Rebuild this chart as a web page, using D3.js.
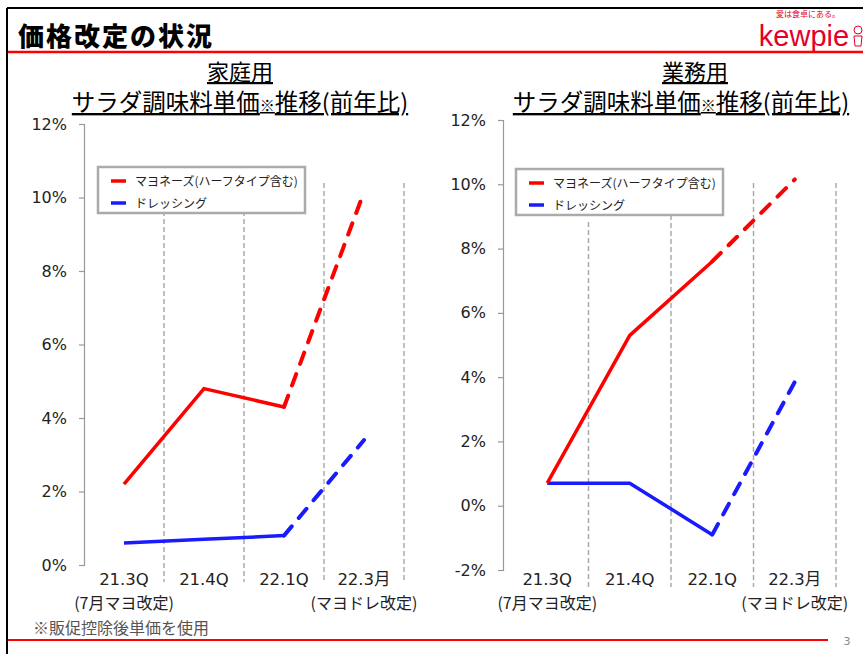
<!DOCTYPE html>
<html>
<head>
<meta charset="utf-8">
<script src="https://cdn.jsdelivr.net/npm/d3@7"></script>
<style>
body { margin:0; background:#fff; }
svg text { font-family: "DejaVu Sans", "Noto Sans CJK JP", sans-serif; }
.jp { font-family: "Noto Sans CJK JP", sans-serif; }
</style>
</head>
<body>
<svg id="chart" width="863" height="654"></svg>
<script>
// data
var categories = ["21.3Q", "21.4Q", "22.1Q", "22.3月"];
var subLabels = ["(7月マヨ改定)", "", "", "(マヨドレ改定)"];
var seriesNames = ["マヨネーズ(ハーフタイプ含む)", "ドレッシング"];
var homeMayo = [2.2, 4.8, 4.3, 10.15];
var homeDress = [0.6, 0.7, 0.8, 3.4];
var bizMayo = [0.7, 5.3, 7.6, 10.15];
var bizDress = [0.7, 0.7, -0.9, 3.85];
var homeTicks = [0, 2, 4, 6, 8, 10, 12];
var bizTicks = [-2, 0, 2, 4, 6, 8, 10, 12];

var red = "#ff0000", blue = "#1a1aff";
var svg = d3.select("#chart");

// frame
svg.append("line").attr("x1", 7).attr("y1", 8).attr("x2", 863).attr("y2", 8).style("stroke", "#000").style("stroke-width", 2);
svg.append("line").attr("x1", 7).attr("y1", 8).attr("x2", 7).attr("y2", 654).style("stroke", "#000").style("stroke-width", 2);
svg.append("line").attr("x1", 8).attr("y1", 52).attr("x2", 863).attr("y2", 52).style("stroke", red).style("stroke-width", 2.5);
svg.append("line").attr("x1", 8).attr("y1", 640).attr("x2", 828).attr("y2", 640).style("stroke", red).style("stroke-width", 2);

svg.append("text").attr("class", "jp").attr("x", 18).attr("y", 46)
	.style("font-size", "26px").style("font-weight", "900").style("letter-spacing", "2px")
	.text("価格改定の状況");

// logo
svg.append("text").attr("class", "jp").attr("x", 808).attr("y", 17).attr("text-anchor", "middle")
	.style("font-size", "8px").style("fill", "#e4002b").text("愛は食卓にある。");
svg.append("text").attr("x", 804).attr("y", 46).attr("text-anchor", "middle")
	.style("font-family", "Liberation Sans, sans-serif").style("font-size", "29px").style("fill", "#e4002b")
	.text("kewpie");
svg.append("circle").attr("cx", 858).attr("cy", 30).attr("r", 4).style("fill", "none").style("stroke", "#e4002b").style("stroke-width", 1);
svg.append("path").attr("d", "M854,36 L862,36 L861,46 L855,46 Z").style("fill", "none").style("stroke", "#e4002b").style("stroke-width", 1);

svg.append("text").attr("class", "jp").attr("x", 33).attr("y", 634)
	.style("font-size", "16px").style("fill", "#555").text("※販促控除後単価を使用");
svg.append("text").attr("x", 847).attr("y", 645).attr("text-anchor", "middle")
	.style("font-size", "11px").style("fill", "#888").text("3");

function draw_panel(opt) {
	var x = d3.scaleBand().domain(categories).range(opt.xrange).paddingInner(0).paddingOuter(0);
	var y = d3.scaleLinear().domain(opt.ydomain).range(opt.yrange);
	var g = svg.append("g");

	// titles
	g.append("text").attr("class", "jp").attr("x", opt.titleX).attr("y", 80).attr("text-anchor", "middle")
		.style("font-size", "22px").style("text-decoration", "underline").text(opt.title);
	var t2 = g.append("text").attr("class", "jp").attr("x", opt.titleX2).attr("y", 111).attr("text-anchor", "middle")
		.style("font-size", "23.5px").style("text-decoration", "underline");
	t2.append("tspan").text("サラダ調味料単価");
	t2.append("tspan").style("font-size", "15px").text("※");
	t2.append("tspan").text("推移(前年比)");

	// dashed category separators
	categories.forEach(function(c, i) {
		g.append("line")
			.attr("x1", x(c) + x.bandwidth()).attr("x2", x(c) + x.bandwidth())
			.attr("y1", opt.gridTop[i]).attr("y2", y(opt.ydomain[0]) + 17)
			.style("stroke", "#aaaaaa").style("stroke-width", 1.5).style("stroke-dasharray", "5,3");
	});

	// y axis
	var axis = d3.axisLeft(y).tickValues(opt.ticks).tickSize(5).tickPadding(12)
		.tickFormat(function(d) { return d + "%"; });
	var ax = g.append("g").attr("transform", "translate(" + opt.axisX + ",0)").call(axis);
	ax.select(".domain").style("stroke", "#999").style("stroke-width", 1.2);
	ax.selectAll(".tick line").style("stroke", "#999").style("stroke-width", 1.2);
	ax.selectAll(".tick text").style("font-size", "16px").style("fill", "#222")
		.style("font-family", "DejaVu Sans, sans-serif");

	// category labels
	categories.forEach(function(c, i) {
		g.append("text").attr("x", x(c) + x.bandwidth() / 2).attr("y", 585)
			.attr("text-anchor", "middle").style("font-size", "16.5px").style("fill", "#222").text(c);
		if (subLabels[i]) {
			g.append("text").attr("class", "jp").attr("x", x(c) + x.bandwidth() / 2).attr("y", 609)
				.attr("text-anchor", "middle").style("font-size", "16px").style("fill", "#222").text(subLabels[i]);
		}
	});

	var line = d3.line().x(function(d) { return x(d.c) + x.bandwidth() / 2; }).y(function(d) { return y(d.v); });
	[[opt.dress, blue], [opt.mayo, red]].forEach(function(s) {
		var pts = s[0].map(function(v, i) { return { c: categories[i], v: v }; });
		g.append("path").attr("d", line(pts.slice(0, 3)))
			.style("fill", "none").style("stroke", s[1]).style("stroke-width", 3.5).style("stroke-linejoin", "round");
		g.append("path").attr("d", line(pts.slice(2, 4)))
			.style("fill", "none").style("stroke", s[1]).style("stroke-width", 4)
			.style("stroke-dasharray", "12,11").style("stroke-linecap", "round");
	});

	// legend
	var lg = g.append("g").attr("transform", "translate(" + opt.legend[0] + "," + opt.legend[1] + ")");
	lg.append("rect").attr("x", 0).attr("y", 0).attr("width", 207).attr("height", 46)
		.style("fill", "#fff").style("stroke", "#aaaaaa").style("stroke-width", 2.5);
	[red, blue].forEach(function(col, i) {
		lg.append("line").attr("x1", 13).attr("x2", 28).attr("y1", 14 + i * 22).attr("y2", 14 + i * 22)
			.style("stroke", col).style("stroke-width", 3.5);
		lg.append("text").attr("class", "jp").attr("x", 37).attr("y", 18.5 + i * 22)
			.style("font-size", "12px").style("fill", "#222").text(seriesNames[i]);
	});
}

draw_panel({
	title: "家庭用", titleX: 240, titleX2: 240,
	xrange: [84, 404], axisX: 84,
	ydomain: [0, 12], yrange: [565, 124], ticks: homeTicks,
	mayo: homeMayo, dress: homeDress,
	gridTop: [195, 195, 183, 183],
	legend: [98, 167]
});
draw_panel({
	title: "業務用", titleX: 695, titleX2: 681,
	xrange: [506, 836], axisX: 503,
	ydomain: [-2, 12], yrange: [570, 120], ticks: bizTicks,
	mayo: bizMayo, dress: bizDress,
	gridTop: [222, 199, 183, 183],
	legend: [516, 169]
});
</script>
</body>
</html>
